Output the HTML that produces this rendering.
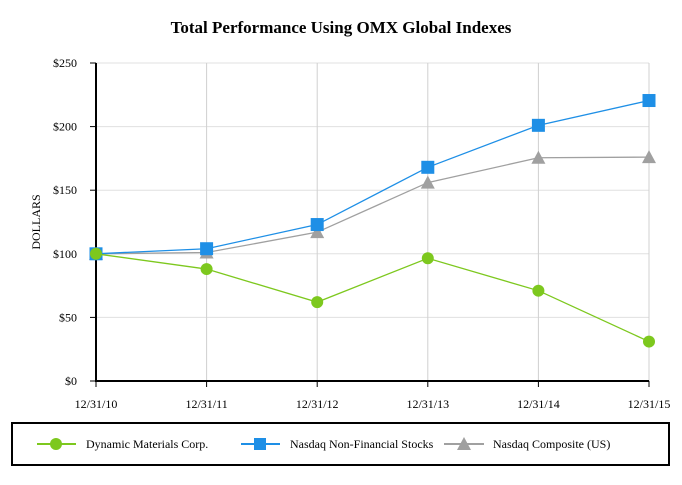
<!DOCTYPE html>
<html><head><meta charset="utf-8"><style>
body{margin:0;background:#fff;font-family:"Liberation Serif",serif;}
svg text{font-family:"Liberation Serif",serif;}
</style></head><body>
<svg width="682" height="480" viewBox="0 0 682 480">
<text x="341" y="33" text-anchor="middle" font-size="17" font-weight="bold">Total Performance Using OMX Global Indexes</text>
<text transform="translate(40,222) rotate(-90)" text-anchor="middle" font-size="12">DOLLARS</text>
<g id="grid"></g><g id="axes"></g><g id="series"></g>
<rect x="12" y="423" width="657" height="42" fill="none" stroke="#000" stroke-width="2"/>
<g>
<line x1="37" y1="444" x2="76" y2="444" stroke="#7dc81e" stroke-width="2"/><circle cx="56" cy="444" r="6" fill="#7dc81e"/>
<text x="86" y="448" font-size="12">Dynamic Materials Corp.</text></g>
<g>
<line x1="241" y1="444" x2="280" y2="444" stroke="#1e8fe6" stroke-width="2"/><rect x="254" y="438" width="12" height="12" fill="#1e8fe6"/>
<text x="290" y="448" font-size="12">Nasdaq Non-Financial Stocks</text></g>
<g>
<line x1="444" y1="444" x2="484" y2="444" stroke="#a0a0a0" stroke-width="2"/><polygon points="464,437 471,450 457,450" fill="#a0a0a0"/>
<text x="493" y="448" font-size="12">Nasdaq Composite (US)</text></g>
</svg>
<script>
const categories=["12/31/10","12/31/11","12/31/12","12/31/13","12/31/14","12/31/15"];
const dynamicVals=[100,88,62,96.5,71,31];
const nonfinVals=[100,104,123,168,201,220.5];
const compositeVals=[100,101,117,156,175.5,176];
const yTicks=[0,50,100,150,200,250];
const NS="http://www.w3.org/2000/svg";
const X0=96,X1=649,Y0=381,Y1=63,YMAX=250;
const xs=i=>X0+(X1-X0)*i/(categories.length-1);
const ys=v=>Y0-(Y0-Y1)*v/YMAX;
function mk(t,a,p){const e=document.createElementNS(NS,t);for(const k in a)e.setAttribute(k,a[k]);p.appendChild(e);return e;}
const grid=document.getElementById('grid'),axes=document.getElementById('axes'),ser=document.getElementById('series');
yTicks.forEach(v=>{
 if(v>0){const g=mk('line',{x1:X0,x2:X1,y1:ys(v),y2:ys(v),stroke:'#e0e0e0','stroke-width':1},grid);
 
 }
 const tk=mk('line',{x1:X0-6,x2:X0,y1:ys(v),y2:ys(v),stroke:'#000'},axes);
 
 
 const t=mk('text',{x:X0-19,y:ys(v)+4,'text-anchor':'end','font-size':12},axes);t.textContent='$'+v;
 
 
});
categories.forEach((c,i)=>{
 if(i>0){const g=mk('line',{x1:xs(i),x2:xs(i),y1:Y1,y2:Y0,stroke:'#d0d0d0'},grid);
 
 }
 const tk=mk('line',{x1:xs(i),x2:xs(i),y1:Y0,y2:Y0+6,stroke:'#000'},axes);
 
 
 const t=mk('text',{x:xs(i),y:408,'text-anchor':'middle','font-size':12},axes);t.textContent=c;
 
 
});
const ax=mk('path',{d:`M${X0},${Y1}V${Y0}H${X1}`,fill:'none',stroke:'#000','stroke-width':2},axes);


function series(vals,color,shape,name){
 const pl=mk('polyline',{points:vals.map((v,i)=>xs(i)+','+ys(v)).join(' '),fill:'none',stroke:color,'stroke-width':1.3},ser);
 
 
 vals.forEach((v,i)=>{const x=xs(i),y=ys(v);let m;
  if(shape==='c')m=mk('circle',{cx:x,cy:y,r:6,fill:color},ser);
  else if(shape==='s')m=mk('rect',{x:x-6.5,y:y-6.5,width:13,height:13,fill:color},ser);
  else m=mk('polygon',{points:`${x},${y-7} ${x+7},${y+6} ${x-7},${y+6}`,fill:color},ser);
  
  
 });
}
series(compositeVals,'#a0a0a0','t','nasdaq-composite');
series(nonfinVals,'#1e8fe6','s','nasdaq-nonfin');
series(dynamicVals,'#7dc81e','c','dynamic-materials');
</script>
</body></html>
